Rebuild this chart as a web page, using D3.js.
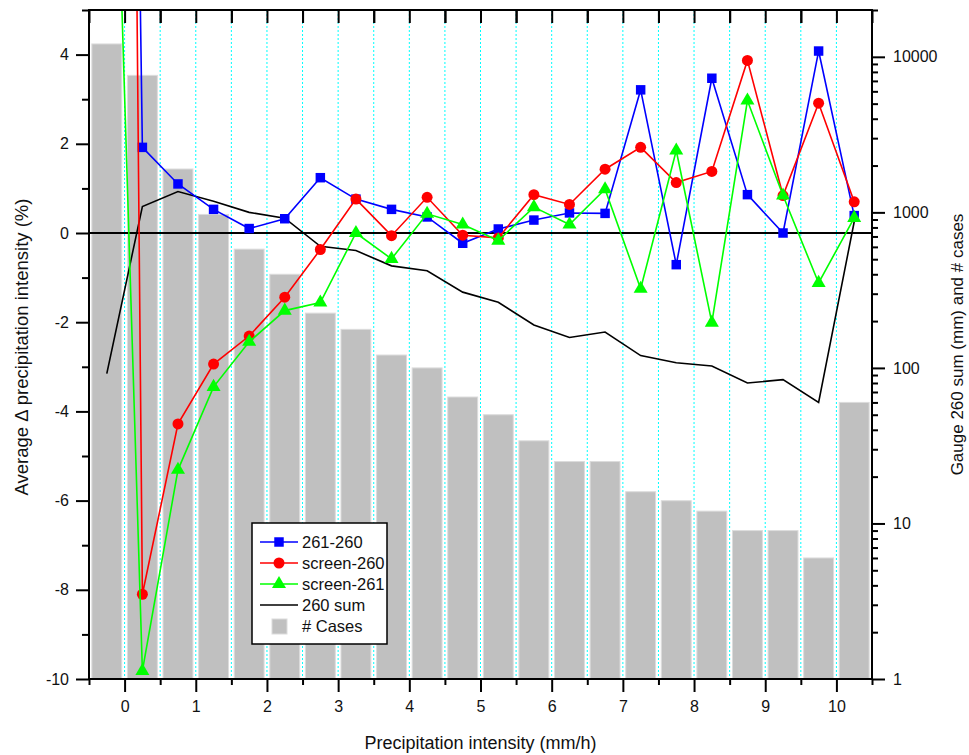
<!DOCTYPE html>
<html lang="en">
<head>
  <meta charset="UTF-8" />
  <title>Precipitation intensity differences</title>
  <script src="https://d3js.org/d3.v7.min.js"></script>
  <style>
    body {
      margin: 0;
      font-family: "Liberation Sans", Arial, sans-serif;
      background: white;
    }
    svg text {
      fill: #111;
    }
  </style>
</head>
<body>

<svg width="969" height="755"></svg>

<script>
  // bin centres (mm/h)
  const bins = [-0.25, 0.25, 0.75, 1.25, 1.75, 2.25, 2.75, 3.25, 3.75, 4.25, 4.75,
                5.25, 5.75, 6.25, 6.75, 7.25, 7.75, 8.25, 8.75, 9.25, 9.75, 10.25];

  // right axis (log): number of cases and gauge 260 sum
  const cases = [12100, 7600, 1900, 970, 580, 400, 225, 177, 121, 100, 65,
                 50, 34, 25, 25, 16, 14, 12, 9, 9, 6, 60];
  const sum260 = [92, 1090, 1360, 1180, 1000, 917, 605, 568, 453, 421, 307,
                  264, 189, 157, 170, 120, 108, 103, 80, 84, 60, 870];

  // left axis: average difference (%)
  const d261_260 = [57, 1.92, 1.10, 0.53, 0.10, 0.32, 1.24, 0.76, 0.53, 0.36, -0.23,
                    0.09, 0.29, 0.45, 0.44, 3.21, -0.71, 3.47, 0.86, 0.0, 4.08, 0.39];
  const screen260 = [79, -8.10, -4.28, -2.94, -2.31, -1.44, -0.37, 0.76, -0.06, 0.80, -0.05,
                     -0.11, 0.86, 0.64, 1.43, 1.92, 1.13, 1.38, 3.87, 0.84, 2.91, 0.70];
  const screen261 = [16, -9.82, -5.31, -3.45, -2.44, -1.74, -1.56, 0.0, -0.58, 0.43, 0.19,
                     -0.17, 0.58, 0.19, 0.98, -1.25, 1.85, -2.01, 2.97, 0.84, -1.12, 0.34];

  // ticks
  const xMajor = [0, 1, 2, 3, 4, 5, 6, 7, 8, 9, 10];
  const xMinor = [-0.5, 0.5, 1.5, 2.5, 3.5, 4.5, 5.5, 6.5, 7.5, 8.5, 9.5, 10.5];
  const xGrid = [0, 0.5, 1, 1.5, 2, 2.5, 3, 3.5, 4, 4.5, 5, 5.5, 6, 6.5, 7, 7.5, 8, 8.5, 9, 9.5, 10];
  const yMajor = [-10, -8, -6, -4, -2, 0, 2, 4];
  const yMinor = [-9, -7, -5, -3, -1, 1, 3, 5];
  const rMajor = [1, 10, 100, 1000, 10000];
  const rMinor = [2, 3, 4, 5, 6, 7, 8, 9, 20, 30, 40, 50, 60, 70, 80, 90,
                  200, 300, 400, 500, 600, 700, 800, 900,
                  2000, 3000, 4000, 5000, 6000, 7000, 8000, 9000, 20000];

  const series = [
    { name: "261-260", values: d261_260, color: "#0000ff", marker: "square" },
    { name: "screen-260", values: screen260, color: "#ff0000", marker: "circle" },
    { name: "screen-261", values: screen261, color: "#00ff00", marker: "triangle" }
  ];

  const svg = d3.select("svg");
  const width = +svg.attr("width");
  const height = +svg.attr("height");
  const margin = { top: 10, right: 97, bottom: 76, left: 89 };
  const innerWidth = width - margin.left - margin.right;
  const innerHeight = height - margin.top - margin.bottom;

  const g = svg.append("g")
    .attr("transform", `translate(${margin.left},${margin.top})`);

  const x = d3.scaleLinear().domain([-0.5, 10.5]).range([0, innerWidth]);
  const y = d3.scaleLinear().domain([-10, 5]).range([innerHeight, 0]);
  const yR = d3.scaleLog().domain([1, 20000]).range([innerHeight, 0]);

  svg.append("defs").append("clipPath").attr("id", "plot-clip")
    .append("rect").attr("width", innerWidth).attr("height", innerHeight);

  // cyan dotted grid
  g.selectAll(".grid")
    .data(xGrid)
    .enter()
    .append("line")
    .attr("x1", d => x(d)).attr("x2", d => x(d))
    .attr("y1", 0).attr("y2", innerHeight)
    .attr("stroke", "#00ffff")
    .attr("stroke-width", 1)
    .attr("stroke-dasharray", "2,2");

  // # cases bars
  const barW = x(0.42) - x(0);
  g.selectAll(".bar")
    .data(bins)
    .enter()
    .append("rect")
    .attr("x", d => x(d) - barW / 2)
    .attr("y", (d, i) => yR(cases[i]))
    .attr("width", barW)
    .attr("height", (d, i) => innerHeight - yR(cases[i]))
    .attr("fill", "#c0c0c0")
    .attr("stroke", "#dcdcdc")
    .attr("stroke-width", 1);

  // zero line
  g.append("line")
    .attr("x1", 0).attr("x2", innerWidth)
    .attr("y1", y(0)).attr("y2", y(0))
    .attr("stroke", "black")
    .attr("stroke-width", 2);

  const plot = g.append("g").attr("clip-path", "url(#plot-clip)");

  // 260 sum line
  plot.append("path")
    .datum(bins)
    .attr("fill", "none")
    .attr("stroke", "black")
    .attr("stroke-width", 1.6)
    .attr("d", d3.line().x(d => x(d)).y((d, i) => yR(sum260[i])));

  const symbolType = {
    square: d3.symbolSquare,
    circle: d3.symbolCircle,
    triangle: d3.symbolTriangle
  };
  const symbolSize = { square: 90, circle: 95, triangle: 85 };

  series.forEach(s => {
    plot.append("path")
      .datum(bins)
      .attr("fill", "none")
      .attr("stroke", s.color)
      .attr("stroke-width", 1.6)
      .attr("d", d3.line().x(d => x(d)).y((d, i) => y(s.values[i])));

    plot.selectAll(null)
      .data(bins)
      .enter()
      .append("path")
      .attr("transform", (d, i) => `translate(${x(d)},${y(s.values[i])})`)
      .attr("d", d3.symbol().type(symbolType[s.marker]).size(symbolSize[s.marker]))
      .attr("fill", s.color);
  });

  // axes
  const fmt = d => String(d); // plain hyphen minus like the original
  function styleAxis(sel) {
    sel.select(".domain").remove();
    sel.selectAll("line").attr("stroke", "black").attr("stroke-width", 2);
    sel.selectAll("text")
      .style("font-size", "16px")
      .style("font-family", '"Liberation Sans", Arial, sans-serif');
  }
  function minorAxis(sel) {
    styleAxis(sel);
    sel.selectAll("text").remove();
  }

  g.append("g")
    .attr("transform", `translate(0,${innerHeight})`)
    .call(d3.axisBottom(x).tickValues(xMajor).tickSize(13).tickPadding(9).tickFormat(fmt))
    .call(styleAxis);
  g.append("g")
    .attr("transform", `translate(0,${innerHeight})`)
    .call(d3.axisBottom(x).tickValues(xMinor).tickSize(6))
    .call(minorAxis);

  g.append("g")
    .call(d3.axisTop(x).tickValues(xGrid.concat(xMinor)).tickSizeInner(-13).tickSizeOuter(0))
    .call(minorAxis);

  g.append("g")
    .call(d3.axisLeft(y).tickValues(yMajor).tickSize(13).tickPadding(7).tickFormat(fmt))
    .call(styleAxis);
  g.append("g")
    .call(d3.axisLeft(y).tickValues(yMinor).tickSize(7))
    .call(minorAxis);

  g.append("g")
    .attr("transform", `translate(${innerWidth},0)`)
    .call(d3.axisRight(yR).tickValues(rMajor).tickSize(13).tickPadding(8).tickFormat(fmt))
    .call(styleAxis);
  g.append("g")
    .attr("transform", `translate(${innerWidth},0)`)
    .call(d3.axisRight(yR).tickValues(rMinor).tickSize(6))
    .call(minorAxis);

  // frame
  g.append("rect")
    .attr("width", innerWidth)
    .attr("height", innerHeight)
    .attr("fill", "none")
    .attr("stroke", "black")
    .attr("stroke-width", 2);

  // axis titles
  svg.append("text")
    .attr("x", margin.left + innerWidth / 2)
    .attr("y", 749)
    .attr("text-anchor", "middle")
    .style("font-size", "18px")
    .text("Precipitation intensity (mm/h)");

  svg.append("text")
    .attr("transform", "translate(28,347) rotate(-90)")
    .attr("text-anchor", "middle")
    .style("font-size", "18.5px")
    .text("Average \u0394 precipitation intensity (%)");

  svg.append("text")
    .attr("transform", `translate(963,${margin.top + innerHeight / 2}) rotate(-90)`)
    .attr("text-anchor", "middle")
    .style("font-size", "17px")
    .text("Gauge 260 sum (mm) and # cases");

  // legend
  const legend = svg.append("g").attr("transform", "translate(252,523)");
  legend.append("rect")
    .attr("width", 135)
    .attr("height", 121)
    .attr("fill", "white")
    .attr("stroke", "black")
    .attr("stroke-width", 1.5);

  const legendItems = series.map(s => ({ name: s.name, color: s.color, marker: s.marker }))
    .concat([{ name: "260 sum", color: "black", marker: null },
             { name: "# Cases", color: "#c0c0c0", marker: "bar" }]);

  legendItems.forEach((item, i) => {
    const row = legend.append("g").attr("transform", `translate(0,${19 + i * 21})`);
    if (item.marker === "bar") {
      row.append("rect")
        .attr("x", 20).attr("y", -7)
        .attr("width", 15).attr("height", 15)
        .attr("fill", "#c0c0c0")
        .attr("stroke", "#dcdcdc");
    } else {
      row.append("line")
        .attr("x1", 8).attr("x2", 46)
        .attr("stroke", item.color)
        .attr("stroke-width", 1.6);
      if (item.marker) {
        row.append("path")
          .attr("transform", "translate(27,0)")
          .attr("d", d3.symbol().type(symbolType[item.marker]).size(symbolSize[item.marker]))
          .attr("fill", item.color);
      }
    }
    row.append("text")
      .attr("x", 50)
      .attr("dy", "0.35em")
      .style("font-size", "16.5px")
      .text(item.name);
  });
</script>

</body>
</html>
